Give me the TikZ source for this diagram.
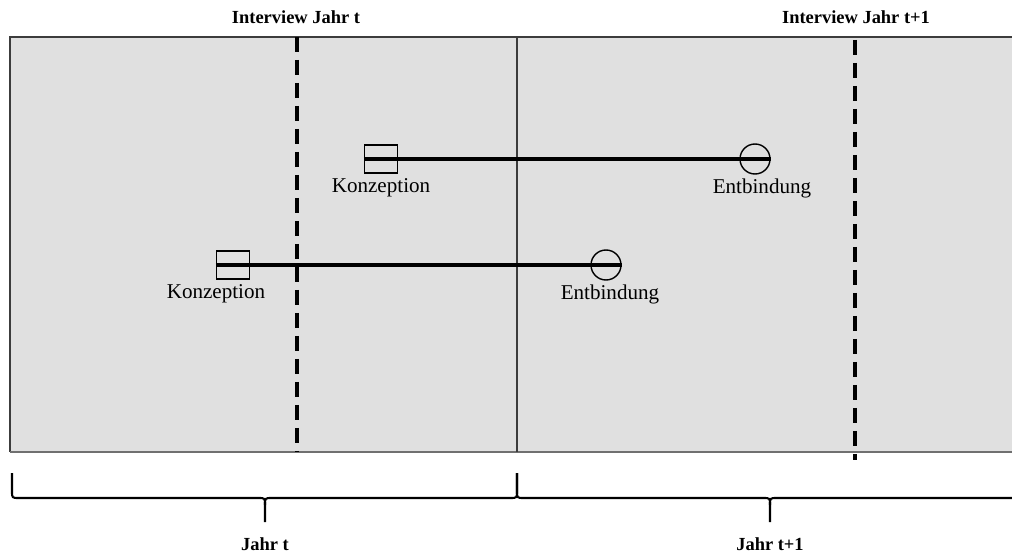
\documentclass[tikz,border=0pt]{standalone}
\usepackage{fontspec}
\setmainfont{Liberation Serif}
\usetikzlibrary{arrows.meta,positioning}
\definecolor{panelgray}{HTML}{E0E0E0}
\definecolor{framegray}{HTML}{3C3C3C}
\definecolor{basegray}{HTML}{707070}

\begin{document}
\begin{tikzpicture}[>=Stealth, x=0.02cm, y=-0.02cm,
        konzbox/.style={draw, line width=0.8pt, minimum width=0.66cm, minimum height=0.56cm, inner sep=0pt},
        entbcirc/.style={draw, line width=0.8pt, circle, minimum size=0.6cm, inner sep=0pt},
        zeitraum/.style={line width=2.6pt},
        lab/.style={font=\fontsize{12}{14}\selectfont, inner sep=0pt},
        boldlab/.style={font=\fontsize{10.5}{12}\selectfont\bfseries, inner sep=0pt},
        ivline/.style={line width=2.2pt, dash pattern=on 0.3cm off 0.16cm},
        yearbrace/.style={line width=1.2pt, line join=round}]
        \useasboundingbox (0,0) rectangle (1012,554);

        % Hintergrund
        \fill [panelgray] (10,37) rectangle (1012,452);
        \draw [framegray, line width=1.3pt] (1012,37) -- (10,37) -- (10,452);
        \draw [basegray, line width=1.1pt] (10,452) -- (1012,452);
        \draw [framegray, line width=0.9pt] (517,37) -- (517,452);

        % Interviewzeitpunkte
        \coordinate (iv1oben) at (297,37);
        \coordinate (iv1unten) at (297,452);
        \coordinate (iv2oben) at (855,40);
        \coordinate (iv2unten) at (855,460);
        \draw [ivline] (iv1oben) -- (iv1unten);
        \draw [ivline] (iv2oben) -- (iv2unten);
        \node [boldlab] (ivlab1) at (296,17) {Interview Jahr t};
        \node [boldlab] (ivlab2) at (856,17) {Interview Jahr t+1};

        % Schwangerschaften
        \foreach \n/\y/\kx/\klx/\ex/\elx in {1/159/381/381/755/762, 2/265/233/216/606/610}{
            \node [konzbox] (konz\n) at (\kx,\y) {};
            \node [entbcirc] (entb\n) at (\ex,\y) {};
            \draw [zeitraum] (konz\n.west) -- (entb\n.east);
            \node [lab] (konzlab\n) at (\klx,{\y+29}) {Konzeption};
            \node [lab] (entblab\n) at (\elx,{\y+29}) {Entbindung};
        }

        % Jahre
        \foreach \a/\m/\b in {12/265/517, 517/770/1023}{
            \draw [yearbrace] (\a,473) -- (\a,491) .. controls (\a,498) .. ({\a+7},498) -- ({\m-7},498) .. controls (\m,498) .. (\m,505) -- (\m,522);
            \draw [yearbrace] (\m,505) .. controls (\m,498) .. ({\m+7},498) -- ({\b-7},498) .. controls (\b,498) .. (\b,491) -- (\b,473);
        }
        \node [boldlab] (jahr1) at (265,544) {Jahr t};
        \node [boldlab] (jahr2) at (770,544) {Jahr t+1};
    \end{tikzpicture}
\end{document}
